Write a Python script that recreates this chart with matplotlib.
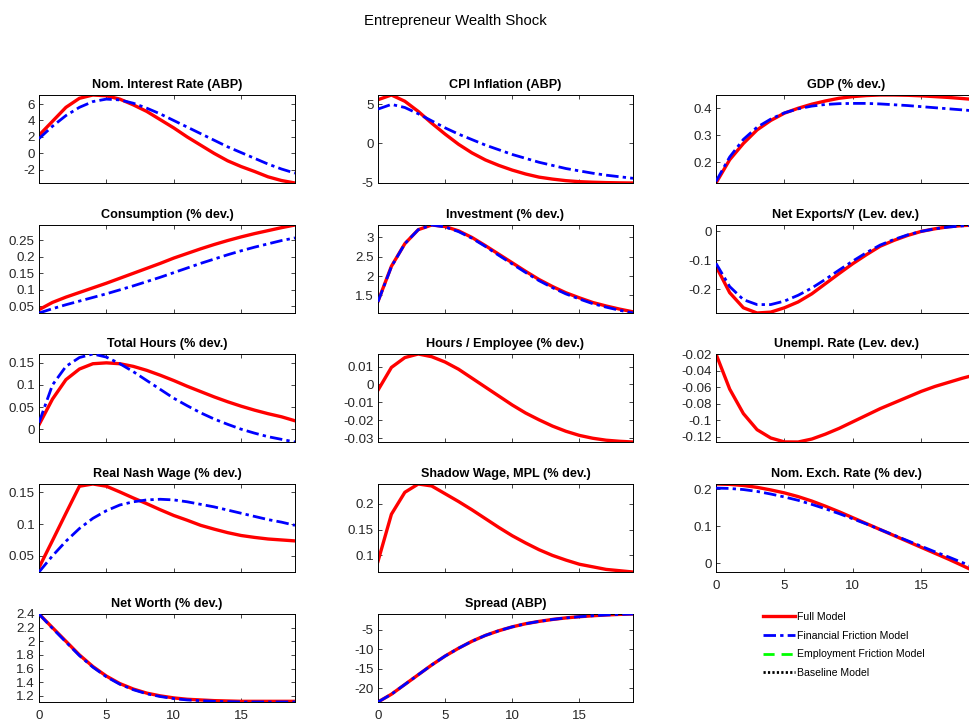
import matplotlib
matplotlib.use("Agg")
import matplotlib.pyplot as plt
from matplotlib.lines import Line2D
from matplotlib.ticker import FuncFormatter

plt.rcParams.update({
    "font.family": ["Liberation Sans", "DejaVu Sans"],
    "axes.unicode_minus": False,
    "xtick.direction": "in",
    "ytick.direction": "in",
    "xtick.top": True,
    "ytick.right": True,
    "xtick.major.size": 3,
    "ytick.major.size": 3,
    "xtick.major.width": 0.6,
    "ytick.major.width": 0.6,
    "axes.linewidth": 0.7,
    "xtick.color": "#262626",
    "ytick.color": "#262626",
    "xtick.labelsize": 9.6,
    "ytick.labelsize": 9.6,
})

RED = "#ff0000"
BLUE = "#0000ff"

horizon = list(range(20))

# ---- impulse responses (Full / Financial Friction) ----
titles = [
    "Nom. Interest Rate (ABP)", "CPI Inflation (ABP)", "GDP (% dev.)",
    "Consumption (% dev.)", "Investment (% dev.)", "Net Exports/Y (Lev. dev.)",
    "Total Hours (% dev.)", "Hours / Employee (% dev.)", "Unempl. Rate (Lev. dev.)",
    "Real Nash Wage (% dev.)", "Shadow Wage, MPL (% dev.)", "Nom. Exch. Rate (% dev.)",
    "Net Worth (% dev.)", "Spread (ABP)",
]

int_full = [2.2, 3.9, 5.6, 6.7, 7.1, 7.0, 6.6, 5.9, 5.1, 4.1, 3.1, 2.0, 1.0, 0.0,
            -0.9, -1.6, -2.2, -2.85, -3.3, -3.6]
int_fin = [1.8, 3.3, 4.6, 5.6, 6.3, 6.6, 6.5, 6.1, 5.5, 4.8, 4.0, 3.2, 2.4, 1.6,
           0.8, 0.1, -0.6, -1.3, -1.9, -2.4]

cpi_full = [5.6, 6.2, 5.4, 4.1, 2.6, 1.2, -0.1, -1.2, -2.1, -2.8, -3.4, -3.9, -4.3,
            -4.55, -4.75, -4.88, -4.95, -5.0, -5.03, -5.05]
cpi_fin = [4.4, 5.0, 4.6, 3.8, 2.9, 2.0, 1.2, 0.5, -0.2, -0.8, -1.4, -1.9, -2.4,
           -2.8, -3.2, -3.5, -3.8, -4.05, -4.25, -4.45]

gdp_full = [0.124, 0.21, 0.27, 0.32, 0.355, 0.382, 0.40, 0.415, 0.427, 0.437, 0.443,
            0.447, 0.449, 0.449, 0.448, 0.446, 0.443, 0.44, 0.436, 0.432]
gdp_fin = [0.13, 0.22, 0.285, 0.33, 0.36, 0.383, 0.398, 0.408, 0.414, 0.417, 0.418,
           0.418, 0.416, 0.413, 0.41, 0.406, 0.402, 0.398, 0.394, 0.39]

cons_full = [0.04, 0.062, 0.078, 0.092, 0.106, 0.12, 0.135, 0.15, 0.165, 0.18, 0.196,
             0.21, 0.224, 0.237, 0.249, 0.26, 0.27, 0.279, 0.288, 0.296]
cons_fin = [0.03, 0.043, 0.055, 0.066, 0.077, 0.088, 0.1, 0.112, 0.125, 0.138, 0.152,
            0.166, 0.18, 0.193, 0.206, 0.218, 0.229, 0.239, 0.249, 0.257]

inv_full = [1.35, 2.25, 2.83, 3.19, 3.31, 3.27, 3.16, 2.99, 2.78, 2.56, 2.34, 2.12,
            1.91, 1.73, 1.57, 1.44, 1.32, 1.23, 1.15, 1.08]
inv_fin = [1.34, 2.24, 2.83, 3.19, 3.31, 3.26, 3.14, 2.97, 2.76, 2.53, 2.31, 2.09,
           1.88, 1.70, 1.54, 1.41, 1.29, 1.20, 1.12, 1.05]

nx_full = [-0.12, -0.211, -0.263, -0.281, -0.278, -0.263, -0.243, -0.215, -0.18,
           -0.145, -0.111, -0.08, -0.051, -0.031, -0.014, 0.0, 0.009, 0.016, 0.02, 0.022]
nx_fin = [-0.11, -0.19, -0.235, -0.252, -0.252, -0.24, -0.22, -0.195, -0.165, -0.133,
          -0.102, -0.073, -0.047, -0.028, -0.012, 0.0, 0.009, 0.015, 0.019, 0.021]

hours_full = [0.01, 0.068, 0.112, 0.136, 0.148, 0.15, 0.148, 0.142, 0.133, 0.122,
              0.11, 0.097, 0.085, 0.073, 0.062, 0.052, 0.043, 0.035, 0.028, 0.019]
hours_fin = [0.015, 0.1, 0.142, 0.162, 0.17, 0.163, 0.148, 0.13, 0.11, 0.09, 0.07,
             0.053, 0.037, 0.023, 0.011, 0.0, -0.009, -0.017, -0.023, -0.029]

hpe_full = [-0.0032, 0.0095, 0.015, 0.017, 0.0155, 0.0125, 0.0085, 0.0035, -0.0015,
            -0.0065, -0.0115, -0.016, -0.0198, -0.0233, -0.0262, -0.0285, -0.0301,
            -0.0312, -0.0318, -0.0322]

unemp_full = [-0.0195, -0.0622, -0.092, -0.1116, -0.1217, -0.1265, -0.1266, -0.123,
              -0.117, -0.11, -0.102, -0.094, -0.086, -0.079, -0.072, -0.065, -0.059,
              -0.054, -0.049, -0.0446]

wage_full = [0.0315, 0.074, 0.117, 0.1595, 0.163, 0.1595, 0.1505, 0.141, 0.132,
             0.1225, 0.1135, 0.106, 0.098, 0.092, 0.0865, 0.082, 0.079, 0.0765,
             0.075, 0.0735]
wage_fin = [0.0246, 0.05, 0.073, 0.093, 0.109, 0.121, 0.13, 0.135, 0.138, 0.139,
            0.138, 0.135, 0.131, 0.127, 0.122, 0.117, 0.112, 0.107, 0.103, 0.098]

mpl_full = [0.0887, 0.1795, 0.2218, 0.2378, 0.234, 0.219, 0.204, 0.188, 0.171, 0.154,
            0.138, 0.124, 0.111, 0.1, 0.091, 0.083, 0.078, 0.073, 0.0705, 0.068]

fx_full = [0.214, 0.213, 0.21, 0.205, 0.198, 0.19, 0.18, 0.168, 0.154, 0.139, 0.123,
           0.107, 0.091, 0.075, 0.059, 0.043, 0.027, 0.011, -0.006, -0.0235]
fx_fin = [0.203, 0.202, 0.199, 0.194, 0.187, 0.179, 0.17, 0.159, 0.147, 0.134, 0.12,
          0.106, 0.091, 0.076, 0.061, 0.046, 0.031, 0.017, 0.002, -0.013]

nw_full = [2.4, 2.2, 2.0, 1.8, 1.63, 1.49, 1.38, 1.3, 1.24, 1.2, 1.17, 1.15, 1.14,
           1.13, 1.125, 1.12, 1.12, 1.12, 1.12, 1.12]
nw_fin = [2.4, 2.19, 1.99, 1.79, 1.62, 1.48, 1.37, 1.29, 1.23, 1.19, 1.16, 1.14, 1.13,
          1.12, 1.115, 1.11, 1.11, 1.11, 1.11, 1.11]

spread_full = [-23.5, -21.5, -19.0, -16.5, -14.0, -11.7, -9.7, -7.9, -6.4, -5.2, -4.2,
               -3.4, -2.8, -2.3, -1.9, -1.6, -1.35, -1.15, -1.0, -0.9]
spread_fin = [-23.5, -21.5, -19.0, -16.5, -14.0, -11.7, -9.7, -7.9, -6.4, -5.2, -4.2,
              -3.4, -2.8, -2.3, -1.9, -1.6, -1.35, -1.15, -1.0, -0.9]

series = [
    (int_full, int_fin), (cpi_full, cpi_fin), (gdp_full, gdp_fin),
    (cons_full, cons_fin), (inv_full, inv_fin), (nx_full, nx_fin),
    (hours_full, hours_fin), (hpe_full, None), (unemp_full, None),
    (wage_full, wage_fin), (mpl_full, None), (fx_full, fx_fin),
    (nw_full, nw_fin), (spread_full, spread_fin),
]

yticks = [
    [-2, 0, 2, 4, 6], [-5, 0, 5], [0.2, 0.3, 0.4],
    [0.05, 0.1, 0.15, 0.2, 0.25], [1.5, 2, 2.5, 3], [-0.2, -0.1, 0],
    [0, 0.05, 0.1, 0.15], [-0.03, -0.02, -0.01, 0, 0.01],
    [-0.12, -0.1, -0.08, -0.06, -0.04, -0.02],
    [0.05, 0.1, 0.15], [0.1, 0.15, 0.2], [0, 0.1, 0.2],
    [1.2, 1.4, 1.6, 1.8, 2, 2.2, 2.4], [-20, -15, -10, -5],
]

legend_labels = ["Full Model", "Financial Friction Model",
                 "Employment Friction Model", "Baseline Model"]

W, H = 970, 723
col_left = [39, 378, 716]
col_width = [256, 255, 260]
row_top = [95, 225, 354, 484, 614]
AX_H = 88

fig = plt.figure(figsize=(W / 100, H / 100), dpi=100)
fig.text(455 / W, 1 - 21 / H, "Entrepreneur Wealth Shock", ha="center",
         va="center", fontsize=10.7)

fmt = FuncFormatter(lambda v, p: f"{v:g}")

for i, (title, (full, fin)) in enumerate(zip(titles, series)):
    r, c = divmod(i, 3)
    ax = fig.add_axes([col_left[c] / W, 1 - (row_top[r] + AX_H) / H,
                       col_width[c] / W, AX_H / H])
    if fin is not None:
        ax.plot(horizon, fin, color=BLUE, lw=2.0, ls=(0, (4.5, 1.5, 1.2, 1.5)), zorder=3)
    ax.plot(horizon, full, color=RED, lw=2.4, zorder=2)
    ax.set_xlim(0, 19)
    ax.margins(y=0)
    ax.set_xticks([0, 5, 10, 15])
    ax.set_yticks(yticks[i])
    ax.yaxis.set_major_formatter(fmt)
    ax.set_title(title, fontsize=9.1, fontweight="bold", pad=5)
    if not (r == 4 or i == 11):
        ax.set_xticklabels([])
    ax.tick_params(axis="x", pad=6)
    ax.tick_params(axis="y", pad=3)

handles = [
    Line2D([], [], color=RED, lw=2.4),
    Line2D([], [], color=BLUE, lw=2.0, ls=(0, (4.5, 1.5, 1.2, 1.5))),
    Line2D([], [], color="#00ff00", lw=2.0, ls=(0, (4, 2.5))),
    Line2D([], [], color="black", lw=2.0, ls=(0, (0.8, 0.8))),
]
fig.legend(handles, legend_labels, loc="upper left",
           bbox_to_anchor=(763 / W, 1 - 612 / H), frameon=False, fontsize=7.6,
           handlelength=3.0, handletextpad=0.2, labelspacing=0.82, borderpad=0,
           borderaxespad=0)

fig.savefig("out.png", dpi=100, facecolor="white")
